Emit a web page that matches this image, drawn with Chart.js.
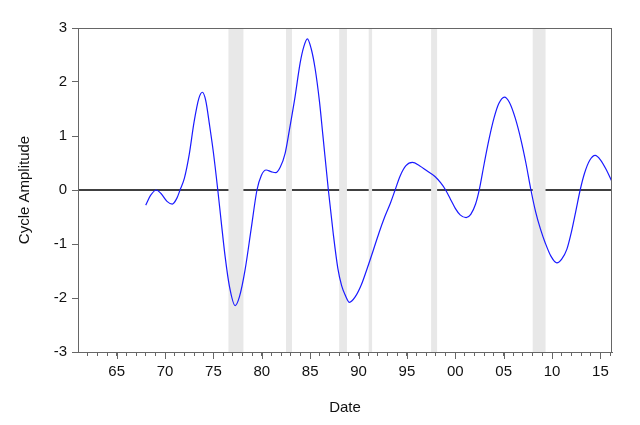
<!DOCTYPE html>
<html>
<head>
<meta charset="utf-8">
<script src="https://cdn.jsdelivr.net/npm/chart.js@4"></script>
<style>
  body { margin: 0; background: #fff; }
  #wrap { width: 640px; height: 425px; }
</style>
</head>
<body>
<div id="wrap"><canvas id="myChart" width="640" height="425"></canvas></div>
<script>
// cycle amplitude (date in years)
const dates = [1968.0, 1968.5, 1969.1, 1969.6, 1970.2, 1970.75, 1971.2, 1971.55, 1972.0, 1972.5,
  1973.0, 1973.5, 1973.86, 1974.2, 1974.6, 1975.0, 1975.45, 1975.8, 1976.2, 1976.65,
  1977.24, 1977.7, 1978.27, 1978.9, 1979.5, 1979.95, 1980.45, 1980.95, 1981.44, 1981.9,
  1982.41, 1982.85, 1983.44, 1983.96, 1984.35, 1984.71, 1985.1, 1985.51, 1985.96, 1986.31,
  1986.88, 1987.4, 1987.86, 1988.25, 1988.61, 1989.06, 1989.65, 1990.3, 1990.9, 1991.5,
  1992.1, 1992.7, 1993.3, 1993.78, 1994.3, 1994.9, 1995.57, 1996.3, 1997.1, 1997.9,
  1998.5, 1999.0, 1999.5, 2000.0, 2000.5, 2001.12, 2001.6, 2002.1, 2002.5, 2003.0,
  2003.5, 2004.0, 2004.5, 2005.08, 2005.6, 2006.2, 2006.8, 2007.3, 2007.82, 2008.3,
  2008.8, 2009.3, 2009.9, 2010.5, 2011.0, 2011.53, 2012.0, 2012.45, 2012.91, 2013.36,
  2013.9, 2014.46, 2015.0, 2015.6, 2016.18];
const amplitude = [-0.28, -0.1, 0.0, -0.07, -0.21, -0.26, -0.16, 0.0, 0.22, 0.66,
  1.26, 1.7, 1.81, 1.66, 1.2, 0.69, 0.0, -0.58, -1.22, -1.78,
  -2.14, -1.97, -1.48, -0.72, 0.0, 0.27, 0.37, 0.34, 0.32, 0.42,
  0.68, 1.11, 1.73, 2.35, 2.66, 2.8, 2.62, 2.25, 1.64, 1.02,
  0.0, -0.83, -1.45, -1.77, -1.94, -2.08, -1.98, -1.75, -1.45, -1.13,
  -0.8, -0.5, -0.24, 0.0, 0.26, 0.45, 0.51, 0.45, 0.35, 0.25,
  0.13, 0.0, -0.17, -0.34, -0.46, -0.51, -0.45, -0.26, 0.02, 0.5,
  0.95, 1.33, 1.6, 1.72, 1.62, 1.33, 0.92, 0.5, 0.0, -0.4,
  -0.72, -0.98, -1.23, -1.35, -1.28, -1.1, -0.78, -0.4, 0.0, 0.31,
  0.55, 0.64, 0.56, 0.38, 0.16];

// shaded periods
const shadeStart = [1976.55, 1982.5, 1988.0, 1991.05, 1997.5, 2008.0];
const shadeEnd = [1978.1, 1983.12, 1988.8, 1991.4, 1998.12, 2009.33];

// axis ticks
const yTicks = [-3, -2, -1, 0, 1, 2, 3];
const xMin = 1961, xMax = 2016.2;

const FONT = "'Liberation Sans', Arial, sans-serif";

// zero line + shaded bands under the curve, frame on top
const backdrop = {
  id: "backdrop",
  beforeDatasetsDraw(chart) {
    const { ctx, chartArea: a, scales: { x, y } } = chart;
    ctx.save();
    ctx.beginPath();
    ctx.rect(a.left, a.top, a.right - a.left, a.bottom - a.top);
    ctx.clip();
    const y0 = y.getPixelForValue(0);
    ctx.strokeStyle = "#000";
    ctx.lineWidth = 1.6;
    ctx.beginPath();
    ctx.moveTo(a.left, y0);
    ctx.lineTo(a.right, y0);
    ctx.stroke();
    ctx.fillStyle = "#e8e8e8";
    shadeStart.forEach((s, i) => {
      const x1 = x.getPixelForValue(s);
      const x2 = x.getPixelForValue(shadeEnd[i]);
      ctx.fillRect(x1, a.top, x2 - x1, a.bottom - a.top);
    });
    ctx.restore();
  },
  afterDraw(chart) {
    const { ctx, chartArea: a, scales: { x } } = chart;
    ctx.save();
    ctx.strokeStyle = "#666";
    ctx.lineWidth = 1;
    ctx.strokeRect(a.left + 0.5, a.top + 0.5, a.right - a.left - 1, a.bottom - a.top);
    // longer ticks at the labelled years
    ctx.beginPath();
    x.ticks.forEach(t => {
      if (t.value % 5 === 0) {
        const px = Math.round(x.getPixelForValue(t.value)) + 0.5;
        ctx.moveTo(px, a.bottom);
        ctx.lineTo(px, a.bottom + 7);
      }
    });
    ctx.stroke();
    ctx.restore();
  }
};

const ctx = document.getElementById("myChart").getContext("2d");
const myChart = new Chart(ctx, {
  type: "line",
  data: {
    datasets: [{
      label: "Cycle Amplitude",
      data: dates.map((d, i) => ({ x: d, y: amplitude[i] })),
      borderColor: "#1a1aff",
      borderWidth: 1.2,
      pointRadius: 0,
      fill: false,
      cubicInterpolationMode: "monotone"
    }]
  },
  options: {
    responsive: false,
    animation: false,
    layout: { padding: { left: 0, right: 28, top: 28, bottom: 0 } },
    plugins: {
      legend: { display: false },
      tooltip: { enabled: false }
    },
    scales: {
      x: {
        type: "linear",
        min: xMin,
        max: xMax,
        afterBuildTicks: s => {
          const t = [];
          for (let v = 1962; v <= 2016; v++) t.push({ value: v });
          s.ticks = t;
        },
        afterFit: s => { s.height = 73; },
        grid: { drawOnChartArea: false, tickLength: 4, color: "#666" },
        border: { display: true, color: "#666" },
        ticks: {
          autoSkip: false,
          maxRotation: 0,
          padding: 7,
          color: "#111",
          font: { family: FONT, size: 15 },
          callback: v => (v % 5 === 0 ? String(v % 100).padStart(2, "0") : "")
        },
        title: {
          display: true,
          text: "Date",
          color: "#111",
          font: { family: FONT, size: 15 },
          padding: { top: 0, bottom: 8 }
        }
      },
      y: {
        min: -3,
        max: 3,
        afterBuildTicks: s => { s.ticks = yTicks.map(v => ({ value: v })); },
        afterFit: s => { s.width = 78; },
        grid: { drawOnChartArea: false, tickLength: 6, color: "#666" },
        border: { display: true, color: "#666" },
        ticks: {
          padding: 5,
          color: "#111",
          font: { family: FONT, size: 15 }
        },
        title: {
          display: true,
          text: "Cycle Amplitude",
          color: "#111",
          font: { family: FONT, size: 15 },
          padding: { top: 16, bottom: 0 }
        }
      }
    }
  },
  plugins: [backdrop]
});
</script>
</body>
</html>
